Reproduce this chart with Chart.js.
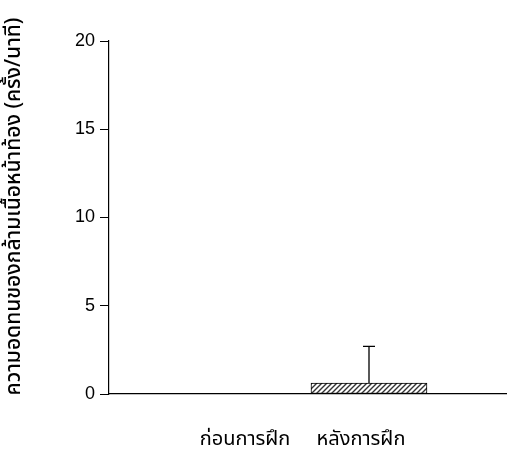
<!DOCTYPE html>
<html><head><meta charset="utf-8">
<script src="https://cdn.jsdelivr.net/npm/chart.js@4.4.1/dist/chart.umd.min.js"></script>
<style>html,body{margin:0;padding:0;background:#fff}#wrap{width:507px;height:457px;position:relative}</style>
</head><body><div id="wrap"><canvas id="c" width="507" height="457"></canvas></div>
<script>
// ---- data ----
const categories = ['ก่อนการฝึก', 'หลังการฝึก'];
const positions = [1, 2];
const values = [0, 0.62];
const errorsUp = [0, 2.08];
const yTicks = [0, 5, 10, 15, 20];
const yTitle = 'ความอดทนของกล้ามเนื้อหน้าท้อง (ครั้ง/นาที)';

const thaiFont = '"Noto Sans Thai", Tahoma, "Leelawadee UI", "DejaVu Sans", "Liberation Sans", sans-serif';
const numFont = '"Liberation Sans", Arial, sans-serif';

function hatch() {
  const c = document.createElement('canvas'); c.width = 5; c.height = 5;
  const g = c.getContext('2d');
  g.fillStyle = '#fff'; g.fillRect(0, 0, 5, 5);
  g.strokeStyle = '#333'; g.lineWidth = 1.4;
  g.beginPath();
  g.moveTo(-1, 6); g.lineTo(6, -1);
  g.moveTo(-3.5, 3.5); g.lineTo(3.5, -3.5);
  g.moveTo(1.5, 8.5); g.lineTo(8.5, 1.5);
  g.stroke();
  return g.createPattern(c, 'repeat');
}

const X_MIN = -0.2414, X_MAX = 3.190;

const errorBars = {
  id: 'errorBars',
  afterDatasetsDraw(chart) {
    const ctx = chart.ctx, xs = chart.scales.x, ys = chart.scales.y;
    ctx.save();
    ctx.strokeStyle = '#000'; ctx.lineWidth = 1.3;
    positions.forEach((p, i) => {
      if (!errorsUp[i]) return;
      const x = Math.round(xs.getPixelForValue(p));
      const yb = ys.getPixelForValue(values[i]);
      const yt = ys.getPixelForValue(values[i] + errorsUp[i]);
      ctx.beginPath();
      ctx.moveTo(x, yb); ctx.lineTo(x, yt);
      ctx.moveTo(x - 6, yt); ctx.lineTo(x + 6, yt);
      ctx.stroke();
    });
    ctx.restore();
  }
};

// y-axis title drawn rotated, slightly above the plot centre as in the reference
const yTitlePlugin = {
  id: 'yTitle',
  afterDraw(chart) {
    const ctx = chart.ctx, a = chart.chartArea;
    ctx.save();
    ctx.translate(16, (a.top + a.bottom) / 2 - 11);
    ctx.rotate(-Math.PI / 2);
    ctx.font = '500 21px ' + thaiFont;
    ctx.fillStyle = '#000';
    ctx.textAlign = 'center';
    ctx.textBaseline = 'middle';
    ctx.fillText(yTitle, 0, 0);
    ctx.restore();
  }
};

new Chart(document.getElementById('c'), {
  type: 'bar',
  data: {
    datasets: [{
      data: positions.map((p, i) => ({ x: p, y: values[i] })),
      backgroundColor: hatch(),
      borderColor: '#000',
      borderWidth: 1,
      borderSkipped: false,
      barThickness: 116
    }]
  },
  options: {
    responsive: false,
    animation: false,
    devicePixelRatio: 1,
    layout: { padding: { top: 41, right: 0, left: 0, bottom: 0 } },
    plugins: { legend: { display: false }, tooltip: { enabled: false } },
    scales: {
      x: {
        type: 'linear',
        offset: false,
        min: X_MIN, max: X_MAX,
        afterBuildTicks(s) { s.ticks = [{ value: X_MIN }].concat(positions.map(v => ({ value: v }))); },
        afterFit(s) { s.height = 63; },
        ticks: {
          autoSkip: false, maxRotation: 0,
          padding: 26,
          labelOffset: -8,
          color: '#000',
          font: { family: thaiFont, size: 20 },
          callback(v) { const i = positions.indexOf(v); return i >= 0 ? categories[i] : ''; }
        },
        grid: {
          drawOnChartArea: false, tickLength: 9,
          color: c => (c.tick && c.tick.value === X_MIN) ? '#000' : 'rgba(0,0,0,0)',
          lineWidth: 1
        },
        border: { color: '#000', width: 1.2 }
      },
      y: {
        min: 0, max: 20,
        afterBuildTicks(s) { s.ticks = yTicks.map(v => ({ value: v })); },
        afterFit(s) { s.width = 109; },
        ticks: { color: '#000', padding: 5, font: { family: numFont, size: 18 } },
        grid: { drawOnChartArea: false, tickLength: 9, color: '#000', lineWidth: 1 },
        border: { color: '#000', width: 1.2 },
        title: { display: false }
      }
    }
  },
  plugins: [errorBars, yTitlePlugin]
});
</script></body></html>
